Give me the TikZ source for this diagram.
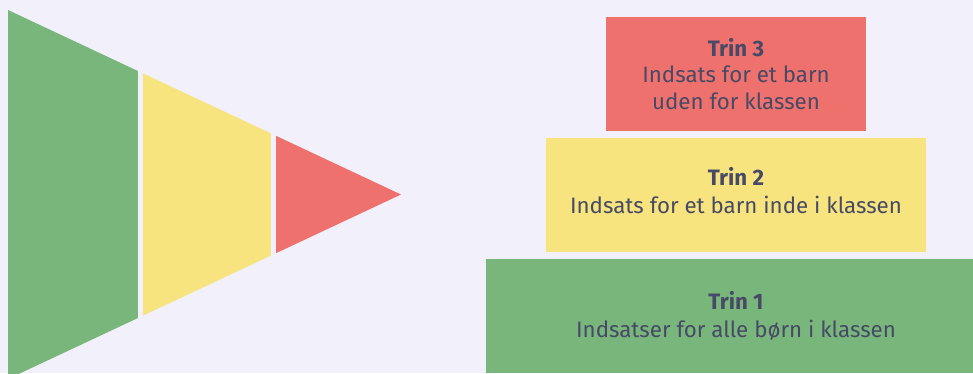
\documentclass[tikz,border=0pt]{standalone}
\usepackage{fontspec}
\setmainfont{Fira Sans}
\definecolor{bg}{HTML}{F2F0FA}
\definecolor{tgreen}{HTML}{79B67C}
\definecolor{tyellow}{HTML}{F7E47E}
\definecolor{tred}{HTML}{EF716D}
\definecolor{tink}{HTML}{474A66}
\begin{document}
\begin{tikzpicture}[x=1pt,y=-1pt,
  stepbox/.style={rectangle,inner sep=0pt,minimum height=114pt,text=tink,align=center,
    font=\fontsize{22.3}{26.5}\selectfont}]
\useasboundingbox (0,0) rectangle (973,373);
\clip (0,0) rectangle (973,373);
\fill[bg] (0,0) rectangle (973,373);
% funnel
\coordinate (tl) at (8,10);
\coordinate (bl) at (8,379);
\coordinate (tip) at (401,194.5);
\begin{scope}
  \clip (tl) -- (tip) -- (bl) -- cycle;
  \fill[tgreen] (0,0) rectangle (138,380);
  \fill[tyellow] (143,0) rectangle (270.5,380);
  \fill[tred] (275.5,0) rectangle (410,380);
\end{scope}
% steps
\node[stepbox,fill=tred,minimum width=260pt] (t3) at (736,74)
  {\textbf{Trin 3}\\Indsats for et barn\\uden for klassen};
\node[stepbox,fill=tyellow,minimum width=380pt] (t2) at (736,195)
  {\raisebox{2pt}{\textbf{Trin 2}}\\Indsats for et barn inde i klassen\rule[-9pt]{0pt}{0pt}};
\node[stepbox,fill=tgreen,minimum width=500pt] (t1) at (736,316)
  {\raisebox{2pt}{\textbf{Trin 1}}\\Indsatser for alle børn i klassen};
\end{tikzpicture}
\end{document}
